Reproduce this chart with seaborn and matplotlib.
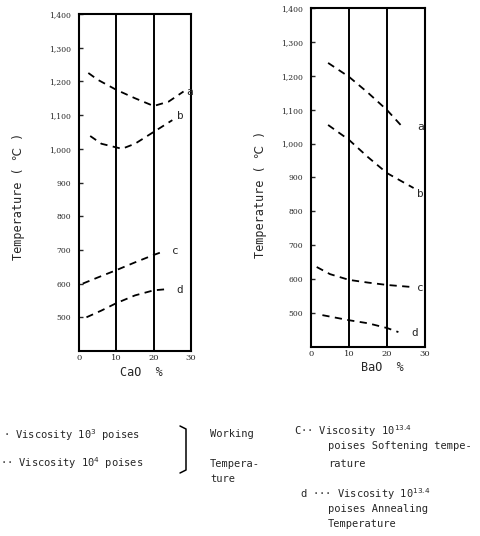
import numpy as np
import pandas as pd
import matplotlib
matplotlib.use("Agg")
import matplotlib.pyplot as plt
import seaborn as sns

# CaO series (mol %, temperature in deg C)
cao_a_x = [2.5, 5, 10, 15, 20, 24, 28]
cao_a_y = [1225, 1205, 1175, 1150, 1127, 1140, 1170]
cao_b_x = [3, 6, 11.5, 15, 20, 25]
cao_b_y = [1038, 1015, 1000, 1015, 1050, 1085]
cao_c_x = [1, 5, 10, 15, 20, 23]
cao_c_y = [600, 618, 640, 663, 685, 697]
cao_d_x = [2, 6, 10, 15, 20, 23]
cao_d_y = [500, 520, 542, 565, 580, 583]

# BaO series
bao_a_x = [4.5, 10, 15, 20, 24]
bao_a_y = [1238, 1197, 1150, 1099, 1050]
bao_b_x = [4.5, 10, 15, 20, 27]
bao_b_y = [1055, 1011, 960, 913, 869]
bao_c_x = [1.5, 5, 10, 15, 20, 26.5]
bao_c_y = [636, 615, 598, 590, 583, 577]
bao_d_x = [3, 10, 15, 20, 23]
bao_d_y = [494, 479, 470, 456, 444]

y_ticks = [500, 600, 700, 800, 900, 1000, 1100, 1200, 1300, 1400]
x_ticks = [0, 10, 20, 30]

sns.set_style("white")
plt.rcParams['font.family'] = ['DejaVu Sans Mono', 'DejaVu Sans', 'Noto Sans CJK JP']

W, H = 481, 536
fig = plt.figure(figsize=(W / 100, H / 100), dpi=100)

def px_axes(x0, x1, y0, y1):
    return fig.add_axes([x0 / W, 1 - y1 / H, (x1 - x0) / W, (y1 - y0) / H])

ax1 = px_axes(79, 191, 14, 351)
ax2 = px_axes(311, 425, 8, 347)

def draw(ax, curves, labels, xlab, ylab_xy, xlab_xy):
    for (x, y), (lab, lx, ly) in zip(curves, labels):
        sns.lineplot(x=x, y=y, ax=ax, color='black', linewidth=1.3,
                     linestyle=(0, (4, 3)), sort=True)
        ax.text(lx, ly, lab, fontsize=8, ha='left', va='center')
    ax.set_xlim(0, 30)
    ax.set_ylim(400, 1400)
    for v in (10, 20):
        ax.axvline(v, color='black', linewidth=1.4)
    for s in ax.spines.values():
        s.set_color('black')
        s.set_linewidth(1.5)
    ax.set_xticks(x_ticks)
    ax.set_yticks(y_ticks)
    ax.set_yticklabels([f"{v:,}" for v in y_ticks], family='DejaVu Serif', fontsize=5.5)
    ax.set_xticklabels([str(v) for v in x_ticks], family='DejaVu Serif', fontsize=6)
    ax.tick_params(axis='y', direction='in', length=3, width=1, left=True, pad=6)
    ax.tick_params(axis='x', length=0, pad=2)
    ax.set_xlabel(xlab, fontsize=8.5)
    ax.xaxis.set_label_coords(*xlab_xy)
    ax.set_ylabel("Temperature ( ℃ )", fontsize=8.5)
    ax.yaxis.set_label_coords(*ylab_xy)

draw(ax1,
     [(cao_a_x, cao_a_y), (cao_b_x, cao_b_y), (cao_c_x, cao_c_y), (cao_d_x, cao_d_y)],
     [("a", 28.6, 1168), ("b", 26.2, 1098), ("c", 25, 697), ("d", 26, 580)],
     "CaO  %", (-0.48, 0.46), (0.56, -0.045))
draw(ax2,
     [(bao_a_x, bao_a_y), (bao_b_x, bao_b_y), (bao_c_x, bao_c_y), (bao_d_x, bao_d_y)],
     [("a", 28, 1050), ("b", 28, 852), ("c", 28, 575), ("d", 26.5, 440)],
     "BaO  %", (-0.386, 0.45), (0.63, -0.041))

def ftext(x, y, s, **kw):
    fig.text(x / W, 1 - y / H, s, fontsize=7.5, va='center', ha='left', **kw)

ftext(3, 435, "· Viscosity 10$^3$ poises")
ftext(0, 463, "·· Viscosity 10$^4$ poises")
fig.lines.append(plt.Line2D([180 / W, 186 / W, 186 / W, 180 / W],
                            [1 - 426 / H, 1 - 429 / H, 1 - 470 / H, 1 - 473 / H],
                            transform=fig.transFigure, color='black', linewidth=1.1))
ftext(210, 434, "Working")
ftext(210, 464, "Tempera-")
ftext(210, 479, "ture")
ftext(294, 431, "C·· Viscosity 10$^{13.4}$")
ftext(328, 446, "poises Softening tempe-")
ftext(328, 464, "rature")
ftext(300, 494, "d ··· Viscosity 10$^{13.4}$")
ftext(328, 509, "poises Annealing")
ftext(328, 524, "Temperature")

fig.savefig("out.png", dpi=100)
